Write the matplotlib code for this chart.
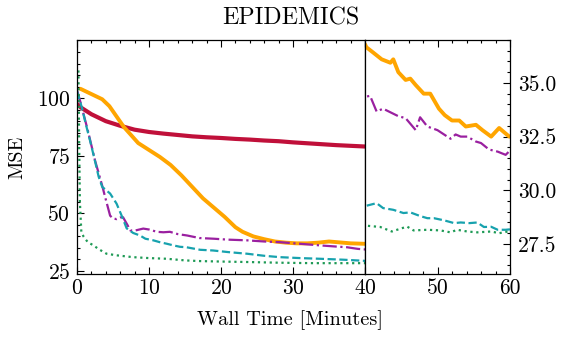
import matplotlib
matplotlib.use('Agg')
import matplotlib.pyplot as plt
from matplotlib.ticker import MultipleLocator, FormatStrFormatter

plt.rcParams['font.family'] = ['cmr10', 'DejaVu Serif']
plt.rcParams['mathtext.fontset'] = 'cm'
plt.rcParams['axes.unicode_minus'] = False
plt.rcParams['axes.formatter.use_mathtext'] = True

# series (wall time in minutes, MSE)
red_t = [0, 0.5, 1, 2, 3, 4, 5, 6, 8, 10, 12, 14, 16, 18, 20, 22, 24, 26, 28, 30,
         32, 34, 36, 38, 40]
red_y = [97.5, 96, 95, 93, 91.5, 90, 89, 88, 86.3, 85.3, 84.6, 84, 83.4, 83, 82.7,
         82.3, 82, 81.6, 81.3, 80.8, 80.4, 80, 79.6, 79.3, 79]

orange_t = [0.5, 1.5, 2.5, 3.5, 4.5, 5.5, 6.5, 7.5, 8.5, 10, 11.5, 13, 14.5, 16, 17.5,
            19, 20.5, 22, 23, 24.5, 26, 27.5, 29, 30.5, 32, 33.5, 35, 36.5, 38, 40,
            40.2, 41, 42.3, 43.5, 43.9, 44.6, 45.6, 46.25, 47, 48.1, 49, 50.2, 51, 52,
            53, 53.9, 55.3, 56.2, 57.4, 58.5, 59.9]
orange_y = [104, 102.5, 101, 99.5, 96.5, 92, 87.5, 84, 80.5, 77.5, 74.5, 71, 66.5, 61.5,
            56.5, 52.5, 48.5, 44, 42, 40, 38.8, 37.8, 37.3, 37, 37, 37.3, 37.8, 37.4, 37,
            36.8, 36.66, 36.45, 36.1, 35.94, 36.1, 35.5, 35.14, 35.2, 34.9, 34.5, 34.5,
            33.8, 33.5, 33.25, 33.25, 32.97, 33.05, 32.8, 32.5, 32.9, 32.5]

purple_t = [0, 0.5, 1, 1.5, 2, 2.5, 3, 3.5, 4, 4.6, 5, 5.5, 6, 6.4, 7, 7.4, 8, 9.2, 10,
            11.1, 12, 12.9, 14, 15.3, 17, 19, 21, 23.6, 26, 28.2, 31, 33.8, 36, 37.5,
            39, 40, 40.7, 41.6, 42.5, 43.7, 44.6, 45.6, 47, 47.6, 48.6, 50, 51.8, 52.5,
            53.2, 54.1, 55.3, 56, 57.1, 58.3, 59.4, 60]
purple_y = [103.5, 98, 92, 86, 79.5, 73, 67.5, 62, 56, 49, 47.8, 47.5, 48.2, 48.3, 45,
            42.6, 42.5, 43.4, 43, 42, 41.8, 42, 41, 40.4, 39.3, 39, 38.6, 38.3, 37.8,
            37.5, 36.8, 36.1, 35.6, 35.3, 34.6, 34.35, 34.4, 33.67, 33.8, 33.6, 33.45,
            33.36, 32.8, 33.4, 32.97, 32.8, 32.4, 32.6, 32.5, 32.5, 32.27, 32.2, 31.9,
            31.8, 31.65, 31.85]

teal_t = [0, 0.65, 1.2, 1.8, 2.4, 3, 3.5, 4.6, 5.5, 6.2, 6.9, 7.8, 8.75, 9.5, 10.6,
          11.5, 12.5, 13.4, 14.3, 15.2, 17.1, 18.9, 21, 23.6, 26, 28.2, 31, 33.8, 37,
          40, 40.2, 41.6, 42.5, 43.9, 45.3, 46.25, 47.6, 48.6, 49.5, 50.9, 52.3, 53.2,
          54.4, 55.5, 56.4, 57.4, 58.3, 59.4, 60]
teal_y = [103, 96.2, 89, 81.7, 74, 66, 61.5, 58.6, 54.2, 49, 43.5, 41.5, 40.4, 39, 38.3,
          37.5, 36.8, 36.1, 35.5, 35.3, 34.2, 33.9, 33.2, 32.5, 31.6, 31, 30.6, 30.3,
          29.9, 29.4, 29.28, 29.4, 29.17, 29.09, 28.94, 28.97, 28.8, 28.7, 28.7, 28.6,
          28.47, 28.5, 28.47, 28.5, 28.29, 28.3, 28.16, 28.16, 28.18]

green_t = [0.2, 0.3, 0.4, 0.6, 0.9, 1.5, 2.3, 3, 4.1, 5.5, 7.8, 10, 12.5, 15, 17.1, 20,
           23.6, 28, 32.8, 36, 40, 40.2, 42.1, 43.7, 45.8, 46.7, 48.6, 50.4, 51.8,
           52.7, 54.1, 55.5, 57.4, 58.5, 59.7]
green_y = [112, 80, 55, 42, 40, 37.5, 36.1, 34.5, 32.5, 31.8, 31, 30.6, 30.3, 29.6,
           29.3, 29.1, 28.9, 28.6, 28.4, 28.4, 28.4, 28.35, 28.29, 28.08, 28.31, 28.13,
           28.16, 28.13, 28.04, 28.16, 28.08, 28.04, 28.08, 28.0, 28.08]

W, H = 565, 340
fig = plt.figure(figsize=(W / 100, H / 100), dpi=100)
bottom = (H - 274) / H
height = 234 / H
ax1 = fig.add_axes([77 / W, bottom, 288 / W, height])
ax2 = fig.add_axes([365 / W, bottom, 145 / W, height])

for ax in (ax1, ax2):
    ax.plot(red_t, red_y, color='#c0103a', lw=3.0, solid_capstyle='round')
    ax.plot(orange_t, orange_y, color='#ffa500', lw=2.8, solid_capstyle='round')
    ax.plot(purple_t, purple_y, color='#9a20a0', lw=1.6, ls='-.')
    ax.plot(teal_t, teal_y, color='#17a2ae', lw=1.6, ls='--')
    ax.plot(green_t, green_y, color='#1e9a55', lw=1.6, ls=':')
    ax.tick_params(which='both', direction='in', labelsize=15.5, width=0.8)
    ax.tick_params(which='major', length=5)
    ax.tick_params(which='minor', length=2.5)
    ax.xaxis.set_minor_locator(MultipleLocator(2))
    for s in ax.spines.values():
        s.set_linewidth(0.9)

ax1.set_xlim(0, 40)
ax1.set_ylim(23.7, 125.2)
ax1.set_xticks([0, 10, 20, 30, 40])
ax1.set_yticks([25, 50, 75, 100])
ax1.yaxis.set_minor_locator(MultipleLocator(5))
ax1.tick_params(which='both', top=True, right=False)
ax1.tick_params(axis='y', pad=5)
ax1.set_ylabel('MSE', fontsize=14.5, labelpad=7)

ax2.set_xlim(40, 60)
ax2.set_ylim(26.1, 37.0)
ax2.set_xticks([40, 50, 60])
ax2.set_xticklabels(['', '50', '60'])
ax2.set_yticks([27.5, 30.0, 32.5, 35.0])
ax2.yaxis.set_major_formatter(FormatStrFormatter('%.1f'))
ax2.yaxis.set_minor_locator(MultipleLocator(0.5))
ax2.yaxis.tick_right()
ax2.tick_params(which='both', top=True, left=False, right=True)
ax2.tick_params(axis='y', pad=6)

fig.text(290 / W, 1 - 320 / H, 'Wall Time [Minutes]', ha='center', va='center', fontsize=14.7)
fig.text(291 / W, 1 - 18 / H, 'EPIDEMICS', ha='center', va='center', fontsize=17.2)

fig.savefig('out.png', dpi=100)
